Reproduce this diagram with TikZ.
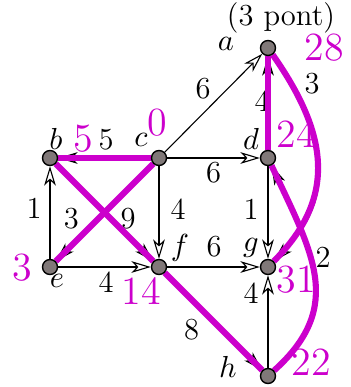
\documentclass[tikz,border=0pt]{standalone}
\usetikzlibrary{arrows.meta}
\definecolor{pathmag}{RGB}{204,0,204}
\definecolor{vgray}{RGB}{128,120,120}
\pgfdeclarelayer{bg}
\pgfsetlayers{bg,main}
\begin{document}
\begin{tikzpicture}[x=0.36pt,y=0.36pt,
  vertex/.style={circle,draw=black,fill=vgray,line width=0.5pt,minimum size=5.4pt,inner sep=0pt},
  edge/.style={draw=black,line width=0.4pt,-{Stealth[open,length=7pt,width=4.2pt,inset=2pt]}},
  tree/.style={draw=pathmag,line width=2.2pt},
  wlab/.style={inner sep=0pt,font=\fontsize{11}{13}\selectfont},
  dlab/.style={inner sep=0pt,text=pathmag,font=\fontsize{14.4}{17}\selectfont},
  nlab/.style={inner sep=0pt,font=\fontsize{11}{13}\selectfont}]
\useasboundingbox (0,0) rectangle (350,387);
% vertices
\node[vertex] (a) at (268,339) {};
\node[vertex] (b) at (50,229) {};
\node[vertex] (c) at (159,229) {};
\node[vertex] (d) at (268,229) {};
\node[vertex] (e) at (50,120) {};
\node[vertex] (f) at (159,120) {};
\node[vertex] (g) at (268,120) {};
\node[vertex] (h) at (268,11) {};
% vertex names
\node[nlab] (na) at (226,343) {$a$};
\node[nlab] (nb) at (56,248) {$b$};
\node[nlab] (nc) at (141,247) {$c$};
\node[nlab] (nd) at (251,248) {$d$};
\node[nlab] (ne) at (57,106) {$e$};
\node[nlab] (nf) at (180,139) {$f$};
\node[nlab] (ng) at (251,139) {$g$};
\node[nlab] (nh) at (228,20) {$h$};
\node[nlab] (title) at (281,369) {(3 pont)};
% distances
\node[dlab] (dc) at (157,264) {0};
\node[dlab] (db) at (83,248) {5};
\node[dlab] (dd) at (296,253) {24};
\node[dlab] (da) at (324,339) {28};
\node[dlab] (de) at (22,119) {3};
\node[dlab] (df) at (141,96) {14};
\node[dlab] (dg) at (296,107) {31};
\node[dlab] (dh) at (311,25) {22};
\begin{pgfonlayer}{bg}
% black edges
\draw[edge] (c) -- node[wlab,shift={(-10.5,14)}] {6} (a);
\draw[edge] (c) -- node[wlab,shift={(0,-15)}] {6} (d);
\draw[edge] (c) -- node[wlab,shift={(1.5,18)}] {5} (b);
\draw[edge] (e) -- node[wlab,shift={(-16,4.5)}] {1} (b);
\draw[edge] (c) -- node[wlab,pos=0.7,shift={(-13.7,13.3)}] {3} (e);
\draw[edge] (b) -- node[wlab,pos=0.65,shift={(9,8)}] {9} (f);
\draw[edge] (c) -- node[wlab,shift={(19,3.5)}] {4} (f);
\draw[edge] (d) -- node[wlab,shift={(-17,3.5)}] {1} (g);
\draw[edge] (e) -- node[wlab,shift={(1.5,-15)}] {4} (f);
\draw[edge] (f) -- node[wlab,shift={(0.5,20)}] {6} (g);
\draw[edge] (f) -- node[wlab,pos=0.43,shift={(-15,-15)}] {8} (h);
\draw[edge] (h) -- node[wlab,shift={(-17,28.5)}] {4} (g);
\draw[edge] (d) -- node[wlab,shift={(-6,2)}] {4} (a);
\draw[edge] (a) to[out=-55,in=45,looseness=1.15] (g);
\draw[edge] (h) to[out=42,in=-65,looseness=1.2] (d);
\node[wlab] (w3) at (312,303) {3};
\node[wlab] (w2) at (323,130) {2};
% shortest path tree
\draw[tree] (c) -- (b);
\draw[tree] (c) -- (e);
\draw[tree] (b) -- (f);
\draw[tree] (f) -- (h);
\draw[tree] (h) to[out=42,in=-65,looseness=1.2] (d);
\draw[tree] (d) -- (a);
\draw[tree] (a) to[out=-55,in=45,looseness=1.15] (g);
\end{pgfonlayer}
\end{tikzpicture}
\end{document}
